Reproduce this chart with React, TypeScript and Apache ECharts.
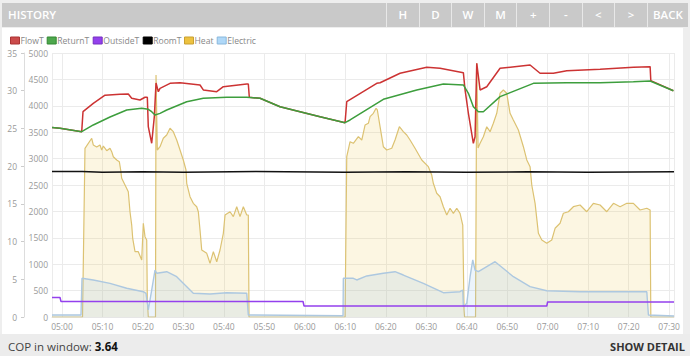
import React, { useEffect, useRef } from "react";
import * as echarts from "echarts";

// Time in minutes relative to 05:00
const BASE = Date.UTC(2024, 0, 1, 5, 0, 0);
const X_START_MIN = -2.47;
const X_END_MIN = 151.2;

const legendNames = ["FlowT", "ReturnT", "OutsideT", "RoomT", "Heat", "Electric"];
const legendColors = ["#cb4b4b", "#4da74d", "#9440ed", "#000000", "#edc240", "#afd8f8"];
const legendBorders = ["#a33", "#383", "#7530c0", "#000", "#c9a030", "#8ab8dc"];

const headerButtons = ["H", "D", "W", "M", "+", "-", "<", ">"];
const copValue = "3.64";

const flowT: [number, number][] = [
  [-2.47, 25.12], [-0.49, 25.02], [4.87, 24.57], [5.19, 27.22], [7.73, 28.33], [10.63, 29.4],
  [14.33, 29.53], [16.38, 29.57], [17.22, 29.0], [19.27, 28.77], [20.51, 29.13], [21.08, 29.13],
  [21.32, 25.23], [22.16, 23.03], [22.81, 26.56], [23.23, 31.02], [23.8, 29.87], [24.22, 30.32],
  [26.69, 30.98], [29.16, 31.06], [34.1, 30.76], [34.91, 30.1], [38.23, 29.87], [39.86, 30.53],
  [45.64, 30.89], [46.03, 30.89], [46.28, 29.13], [48.93, 29.0], [53.87, 27.88], [58.81, 27.22],
  [63.75, 26.56], [69.93, 25.76], [70.35, 28.54], [77.76, 30.98], [78.58, 31.06], [83.52, 32.31],
  [90.12, 33.11], [93.4, 32.97], [99.16, 32.39], [99.58, 30.1], [100.4, 27.01], [101.63, 23.03],
  [102.05, 23.9], [102.47, 33.64], [103.29, 30.1], [104.94, 30.53], [108.23, 32.97], [115.64, 33.41],
  [118.11, 32.31], [121.4, 32.31], [124.71, 32.66], [132.94, 32.84], [141.17, 33.11], [145.3, 33.19],
  [145.47, 31.33], [151.05, 30.0],
];

const returnT: [number, number][] = [
  [-2.47, 25.12], [-0.49, 25.02], [4.87, 24.57], [7.73, 25.46], [11.86, 26.52], [15.99, 27.44],
  [19.69, 27.67], [21.32, 27.54], [22.16, 27.22], [22.98, 26.78], [24.22, 27.0], [25.87, 27.44],
  [30.81, 28.54], [34.91, 29.0], [40.7, 29.13], [45.64, 29.13], [48.93, 29.0], [53.87, 27.88],
  [58.81, 27.22], [63.75, 26.56], [69.93, 25.76], [71.17, 26.12], [79.39, 28.86], [87.65, 30.1],
  [94.22, 30.89], [99.16, 30.76], [100.4, 29.66], [101.63, 27.88], [102.87, 27.22], [104.1, 27.22],
  [108.23, 29.21], [116.46, 30.98], [124.71, 31.06], [132.94, 31.06], [141.17, 31.2], [145.3, 31.29],
  [151.05, 30.0],
];

const outsideT: [number, number][] = [
  [-2.47, 2.59], [-0.49, 2.59], [-0.25, 2.05], [59.55, 2.05], [59.8, 1.46], [119.77, 1.46],
  [119.97, 1.99], [151.2, 1.99],
];

const roomT: [number, number][] = [
  [-2.47, 19.3], [5, 19.3], [10, 19.2], [20, 19.25], [30, 19.2], [48, 19.3], [70, 19.2],
  [85, 19.25], [100, 19.2], [115, 19.25], [130, 19.2], [151.2, 19.25],
];

const heat: [number, number][] = [
  [-2.47, 0], [5.07, 0], [5.68, 3195], [7.34, 3385], [7.73, 3258], [8.57, 3220], [9.39, 3258],
  [9.81, 3163], [10.21, 3239], [11.05, 3150], [11.86, 3195], [12.28, 3131], [12.68, 3036],
  [13.52, 2974], [14.16, 2941], [14.5, 2784], [14.75, 2627], [15.57, 2500], [16.38, 2373],
  [16.8, 1994], [17.22, 1742], [17.47, 1491], [18.04, 1237], [18.85, 1237], [19.69, 1080],
  [20.09, 1775], [20.51, 1521], [20.93, 1458], [21.08, 322], [21.32, 0], [23.1, 0], [23.23, 4583],
  [23.55, 3163], [24.22, 3225], [25.03, 3385], [25.87, 3447], [26.69, 3574], [27.5, 3510],
  [28.34, 3352], [29.16, 3163], [29.97, 2974], [30.64, 2784], [30.81, 2532], [31.63, 2278],
  [32.44, 2153], [33.28, 2089], [33.68, 1994], [34.1, 1648], [34.52, 1269], [35.76, 1206],
  [36.57, 1017], [37.39, 1237], [38.23, 1047], [39.04, 1269], [39.86, 1585], [40.28, 1932],
  [41.51, 1994], [42.33, 1900], [43.17, 2089], [43.98, 1900], [44.8, 2089], [45.64, 1932],
  [46.03, 1932], [46.21, 0], [69.93, 0], [70.35, 3036], [71.17, 3320], [71.98, 3290], [73.22, 3415],
  [74.06, 3352], [74.87, 3636], [75.69, 3669], [76.11, 3794], [76.92, 3858], [77.59, 3953],
  [77.91, 3921], [78.58, 3604], [79.39, 3225], [80.23, 3163], [81.47, 3195], [82.28, 3352],
  [83.35, 3604], [84.33, 3510], [85.17, 3447], [85.99, 3352], [87.22, 3195], [88.88, 2974],
  [90.51, 2847], [91.35, 2689], [91.74, 2532], [92.58, 2343], [93.4, 2278], [94.22, 2089],
  [95.06, 1932], [95.87, 2059], [96.69, 1964], [97.53, 2059], [98.34, 1964], [99.01, 1742],
  [99.33, 133], [99.46, 0], [102.17, 0], [102.47, 4805], [102.79, 3201], [103.29, 3290],
  [104.1, 3415], [104.94, 3604], [105.76, 3510], [106.57, 3669], [107.41, 3858], [108.23, 4237],
  [109.04, 4299], [109.88, 4237], [110.7, 3858], [111.51, 3731], [112.75, 3542], [113.99, 3225],
  [114.83, 2974], [115.64, 2847], [116.06, 2500], [116.88, 2153], [117.7, 1585], [118.54, 1458],
  [119.77, 1396], [121.0, 1458], [121.82, 1680], [123.05, 1775], [123.87, 1964], [125.1, 1994],
  [126.34, 2089], [127.99, 2121], [129.64, 1994], [131.28, 2153], [132.94, 2121], [134.59, 1994],
  [136.24, 2153], [137.88, 2089], [139.54, 2153], [141.17, 2153], [142.82, 2027], [144.48, 2059],
  [145.3, 2027], [145.47, 0], [151.2, 0],
];

const electric: [number, number][] = [
  [-2.47, 38], [4.69, 38], [4.94, 733], [7.73, 701], [11.86, 638], [15.99, 544], [20.09, 479],
  [20.76, 449], [21.32, 133], [22.16, 511], [22.98, 890], [23.4, 828], [25.87, 858], [28.34, 763],
  [32.44, 449], [36.57, 436], [40.7, 460], [45.64, 449], [46.03, 38], [69.43, 25], [69.51, 733],
  [71.98, 733], [72.82, 701], [75.29, 777], [79.39, 828], [82.28, 858], [84.33, 795], [89.28, 638],
  [94.22, 460], [98.34, 479], [99.01, 511], [99.16, 195], [100.0, 259], [100.82, 763],
  [101.48, 1080], [102.05, 890], [102.87, 858], [104.94, 953], [107.0, 1047], [111.52, 763],
  [115.64, 574], [119.77, 498], [127.99, 479], [144.48, 479], [144.88, 38], [151.2, 19],
];

const FONT = "'Open Sans', sans-serif";
// left edge (chart px) of each legend entry's colour box
const legendLefts = [8, 44.7, 90.7, 140.7, 182, 214.7];

const toTime = (arr: [number, number][]) => arr.map(([m, v]) => [BASE + m * 60000, v]);

const pad = (n: number) => (n < 10 ? "0" + n : "" + n);

function Chart() {
  const ref = useRef<HTMLDivElement>(null);
  useEffect(() => {
    if (!ref.current) return;
    const chart = echarts.init(ref.current, undefined, { renderer: "svg" });
    const lineBase = { type: "line", symbol: "none", showSymbol: false, animation: false };
    chart.setOption({
      animation: false,
      useUTC: true,
      textStyle: { fontFamily: FONT },
      legend: legendNames.map((n, i) => ({
        left: legendLefts[i],
        top: 8,
        icon: "rect",
        itemWidth: 9,
        itemHeight: 7,
        itemGap: 0,
        padding: 0,
        z: 10 - i,
        textStyle: { color: "#888", fontSize: 8.6, fontFamily: FONT, padding: [0, 0, 0, -4] },
        data: [
          {
            name: n,
            itemStyle: { color: legendColors[i], borderColor: legendBorders[i], borderWidth: 1 },
          },
        ],
      })),
      grid: { left: 50, right: 9, top: 25, bottom: 17 },
      xAxis: {
        type: "time",
        min: BASE + X_START_MIN * 60000,
        max: BASE + X_END_MIN * 60000,
        minInterval: 660000,
        maxInterval: 660000,
        axisLine: { show: true, lineStyle: { color: "#e6e6e6" } },
        axisTick: { show: false },
        splitLine: { show: true, lineStyle: { color: "#ebebeb" } },
        axisLabel: {
          color: "#999",
          fontSize: 8.5,
          margin: 5,
          interval: 0,
          showMinLabel: false,
          showMaxLabel: false,
          fontFamily: FONT,
          formatter: (v: number) => {
            const d = new Date(v);
            return pad(d.getUTCHours()) + ":" + pad(d.getUTCMinutes());
          },
        },
      },
      yAxis: [
        {
          type: "value",
          position: "left",
          offset: 28,
          min: 0,
          max: 35,
          interval: 5,
          axisLine: { show: true, lineStyle: { color: "#ddd" } },
          axisTick: { show: true, length: 3, lineStyle: { color: "#ccc" } },
          splitLine: { show: false },
          axisLabel: { color: "#999", fontSize: 8.5, margin: 7, fontFamily: FONT },
        },
        {
          type: "value",
          position: "left",
          offset: 0,
          min: 0,
          max: 5000,
          interval: 500,
          axisLine: { show: false },
          axisTick: { show: false },
          splitLine: { show: true, lineStyle: { color: "#ebebeb" } },
          axisLabel: {
            color: "#999",
            fontSize: 8.5,
            margin: 4,
            fontFamily: FONT,
            formatter: (v: number) => String(v),
          },
        },
      ],
      series: [
        {
          ...lineBase,
          name: "FlowT",
          yAxisIndex: 0,
          z: 5,
          data: toTime(flowT),
          lineStyle: { color: "#cc3333", width: 1.5 },
          itemStyle: { color: "#cb4b4b" },
        },
        {
          ...lineBase,
          name: "ReturnT",
          yAxisIndex: 0,
          z: 6,
          data: toTime(returnT),
          lineStyle: { color: "#3d9e3d", width: 1.5 },
          itemStyle: { color: "#4da74d" },
        },
        {
          ...lineBase,
          name: "OutsideT",
          yAxisIndex: 0,
          z: 4,
          data: toTime(outsideT),
          lineStyle: { color: "#9440ed", width: 1.5 },
          itemStyle: { color: "#9440ed" },
        },
        {
          ...lineBase,
          name: "RoomT",
          yAxisIndex: 0,
          z: 4,
          data: toTime(roomT),
          lineStyle: { color: "#111", width: 1.5 },
          itemStyle: { color: "#000" },
        },
        {
          ...lineBase,
          name: "Heat",
          yAxisIndex: 1,
          z: 2,
          data: toTime(heat),
          lineStyle: { color: "#dcc272", width: 1.2 },
          areaStyle: { color: "rgba(237,194,64,0.22)" },
          itemStyle: { color: "#edc240" },
        },
        {
          ...lineBase,
          name: "Electric",
          yAxisIndex: 1,
          z: 3,
          data: toTime(electric),
          lineStyle: { color: "#adc8e0", width: 1.4 },
          areaStyle: { color: "rgba(150,195,235,0.25)" },
          itemStyle: { color: "#afd8f8" },
        },
      ],
    });
    return () => chart.dispose();
  }, []);
  return <div ref={ref} style={{ width: 681, height: 306 }} />;
}

export default function App() {
  const btnLeft = 386;
  const btnW = 32.6;
  return (
    <div
      style={{
        position: "fixed",
        left: 0,
        top: 0,
        width: 690,
        height: 356,
        background: "#eeeeee",
        fontFamily: FONT,
        overflow: "hidden",
      }}
    >
      <div
        style={{
          position: "absolute",
          left: 2,
          top: 3,
          width: 686,
          height: 24,
          background: "#c9c9c9",
          color: "#fff",
          fontSize: 11.5,
        }}
      >
        <div style={{ position: "absolute", left: 6, top: 0, lineHeight: "24px", fontWeight: 600 }}>
          HISTORY
        </div>
        {headerButtons.map((b, i) => (
          <div
            key={b}
            style={{
              position: "absolute",
              left: btnLeft - 2 + i * btnW,
              top: 0,
              width: btnW,
              height: 24,
              lineHeight: "24px",
              textAlign: "center",
              borderLeft: "1px solid #e8e8e8",
              boxSizing: "border-box",
              fontWeight: 600,
            }}
          >
            {b}
          </div>
        ))}
        <div
          style={{
            position: "absolute",
            left: btnLeft - 2 + 8 * btnW,
            top: 0,
            width: 686 - (btnLeft - 2 + 8 * btnW),
            height: 24,
            lineHeight: "24px",
            textAlign: "center",
            borderLeft: "1px solid #e8e8e8",
            boxSizing: "border-box",
            fontWeight: 600,
          }}
        >
          BACK
        </div>
      </div>
      <div style={{ position: "absolute", left: 2, top: 28, width: 681, height: 306, background: "#fff" }}>
        <Chart />
      </div>
      <div
        style={{
          position: "absolute",
          left: 0,
          top: 334,
          width: 690,
          height: 22,
          background: "#ececec",
          fontSize: 11.5,
          color: "#444",
        }}
      >
        <div style={{ position: "absolute", left: 8, top: 0, lineHeight: "26px" }}>
          COP in window: <b style={{ color: "#111" }}>{copValue}</b>
        </div>
        <div
          style={{
            position: "absolute",
            left: 607,
            top: 0,
            width: 81,
            height: 22,
            lineHeight: "26px",
            textAlign: "center",
            fontWeight: 700,
            fontSize: 11,
            color: "#333",
          }}
        >
          SHOW DETAIL
        </div>
      </div>
    </div>
  );
}
